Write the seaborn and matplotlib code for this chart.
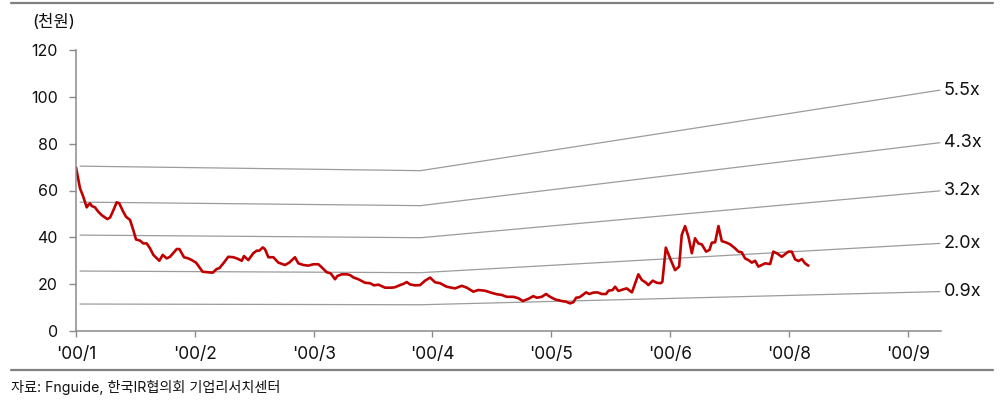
import matplotlib
matplotlib.use("Agg")
import matplotlib.pyplot as plt
import numpy as np
import pandas as pd
import seaborn as sns

# Month positions (x in months from '00/1) and closing price (천원)
price_x = [
    0.000, 0.034, 0.061, 0.090, 0.104, 0.118, 0.132, 0.160, 0.188, 0.216,
    0.263, 0.286, 0.309, 0.343, 0.364, 0.398, 0.421, 0.455, 0.482, 0.505,
    0.539, 0.566, 0.595, 0.623, 0.651, 0.701, 0.730, 0.763, 0.791, 0.848,
    0.870, 0.909, 0.945, 0.974, 1.010, 1.066, 1.105, 1.151, 1.184, 1.206,
    1.240, 1.282, 1.324, 1.353, 1.395, 1.414, 1.450, 1.492, 1.521, 1.543,
    1.572, 1.591, 1.619, 1.661, 1.703, 1.759, 1.795, 1.843, 1.871, 1.913,
    1.955, 1.997, 2.040, 2.068, 2.110, 2.144, 2.180, 2.200, 2.237, 2.279,
    2.306, 2.334, 2.376, 2.433, 2.475, 2.508, 2.545, 2.601, 2.657, 2.685,
    2.727, 2.755, 2.784, 2.811, 2.854, 2.896, 2.938, 2.980, 3.022, 3.064,
    3.120, 3.190, 3.247, 3.289, 3.344, 3.386, 3.443, 3.485, 3.541, 3.583,
    3.625, 3.681, 3.723, 3.760, 3.807, 3.849, 3.878, 3.920, 3.956, 3.990,
    4.032, 4.088, 4.125, 4.158, 4.186, 4.209, 4.237, 4.265, 4.293, 4.320,
    4.354, 4.388, 4.425, 4.461, 4.481, 4.516, 4.537, 4.565, 4.607, 4.635,
    4.678, 4.686, 4.733, 4.762, 4.798, 4.817, 4.854, 4.888, 4.921, 4.935,
    4.964, 5.000, 5.042, 5.076, 5.098, 5.126, 5.154, 5.183, 5.210, 5.238,
    5.267, 5.303, 5.331, 5.351, 5.379, 5.407, 5.435, 5.477, 5.505, 5.547,
    5.575, 5.603, 5.631, 5.659, 5.688, 5.715, 5.743, 5.772, 5.800, 5.842,
    5.869, 5.898, 5.940, 5.968, 5.996, 6.024, 6.052, 6.080, 6.109, 6.136,
    6.164,
]
price = [
    69.9, 60.9, 57.4, 52.8, 53.8, 54.5, 53.4, 52.8, 50.9, 49.5,
    47.8, 48.4, 50.9, 55.0, 54.5, 50.9, 48.8, 47.4, 43.1, 39.1,
    38.6, 37.4, 37.4, 35.3, 32.5, 30.0, 32.5, 31.0, 31.7, 35.0,
    35.0, 31.5, 31.0, 30.3, 29.2, 25.3, 25.1, 24.9, 26.5, 26.8,
    28.9, 31.7, 31.5, 31.0, 30.0, 32.0, 30.3, 33.2, 34.3, 34.3,
    35.7, 34.9, 31.5, 31.5, 29.2, 28.2, 29.2, 31.5, 28.9, 28.2,
    27.9, 28.5, 28.5, 27.2, 25.1, 24.6, 22.1, 23.5, 24.2, 24.2,
    23.9, 22.9, 22.1, 20.6, 20.4, 19.5, 19.8, 18.5, 18.5, 18.7,
    19.6, 20.1, 20.9, 19.9, 19.5, 19.6, 21.5, 22.8, 20.8, 20.4,
    18.9, 18.2, 19.3, 18.5, 16.8, 17.5, 17.2, 16.5, 15.7, 15.4,
    14.6, 14.6, 14.0, 12.8, 13.7, 14.9, 14.2, 14.6, 15.8, 14.6,
    13.5, 12.8, 12.5, 11.8, 12.3, 14.2, 14.4, 15.4, 16.5, 15.8,
    16.4, 16.5, 15.8, 15.8, 17.2, 17.5, 18.9, 17.1, 17.8, 18.2,
    16.5, 17.5, 24.2, 21.8, 20.6, 19.6, 21.5, 20.6, 20.4, 21.0,
    35.6, 31.0, 26.0, 27.5, 41.0, 44.8, 40.3, 33.2, 39.6, 37.4,
    37.0, 33.9, 34.6, 37.7, 37.9, 44.8, 38.4, 37.7, 37.0, 35.3,
    33.9, 33.6, 31.0, 30.3, 29.2, 30.0, 27.5, 28.2, 28.9, 28.6,
    33.9, 33.2, 31.7, 32.8, 33.9, 33.9, 30.6, 29.9, 30.7, 28.9,
    27.9,
]

# Book value per share (천원) used for the PBR bands
bps_x = [0.034, 2.90, 7.27]
bps = [12.8, 12.45, 18.7]
band_multiples = [5.5, 4.3, 3.2, 2.0, 0.9]
band_labels = ["5.5x", "4.3x", "3.2x", "2.0x", "0.9x"]

month_ticks = [0, 1, 2, 3, 4, 5, 6, 7]
month_labels = ["'00/1", "'00/2", "'00/3", "'00/4", "'00/5", "'00/6", "'00/8", "'00/9"]

sns.set_theme(style="white")
plt.rcParams["font.family"] = ["Inter", "Noto Sans CJK KR", "DejaVu Sans"]

fig = plt.figure(figsize=(10.06, 4.01), dpi=100)
ax = fig.add_axes([76 / 1006, 70 / 401, (941 - 76) / 1006, (331 - 50) / 401])

bands = pd.DataFrame(
    [
        {"x": x, "value": b * m, "band": lab}
        for m, lab in zip(band_multiples, band_labels)
        for x, b in zip(bps_x, bps)
    ]
)
sns.lineplot(
    data=bands, x="x", y="value", units="band", estimator=None,
    color="#9c9c9c", linewidth=0.9, ax=ax, legend=False,
)
for m, lab in zip(band_multiples, band_labels):
    ax.annotate(
        lab, xy=(bps_x[-1], bps[-1] * m), xytext=(3, 0), textcoords="offset points",
        va="center", ha="left", fontsize=13, color="#111111", annotation_clip=False,
    )

sns.lineplot(x=price_x, y=price, color="#c00000", linewidth=1.9, ax=ax, estimator=None)

ax.set_xlim(0, 7.28)
ax.set_ylim(0, 120)
ax.set_yticks(range(0, 121, 20))
ax.set_xticks(month_ticks)
ax.set_xticklabels(month_labels)
ax.set_xlabel("")
ax.set_ylabel("")
for side in ("top", "right"):
    ax.spines[side].set_visible(False)
for side in ("left", "bottom"):
    ax.spines[side].set_color("#8a8a8a")
    ax.spines[side].set_linewidth(1.1)
ax.tick_params(axis="y", which="major", left=True, length=5, width=1, color="#8a8a8a",
               pad=8, labelsize=11.5, labelcolor="#111111")
ax.tick_params(axis="x", which="major", bottom=True, length=4, width=1, color="#8a8a8a",
               pad=7, labelsize=12.5, labelcolor="#111111")

fig.text(32 / 1006, 1 - 22 / 401, "(천원)", fontsize=12, va="center", ha="left", color="#111111")
fig.text(11 / 1006, 1 - 387 / 401, "자료: Fnguide, 한국IR협의회 기업리서치센터",
         fontsize=10.2, va="center", ha="left", color="#111111")

# Horizontal rules framing the exhibit
fig.add_artist(plt.Line2D([11 / 1006, 993 / 1006], [1 - 2.5 / 401] * 2, color="#808080", linewidth=1.6))
fig.add_artist(plt.Line2D([11 / 1006, 993 / 1006], [1 - 370 / 401] * 2, color="#808080", linewidth=1.6))

fig.savefig("out.png", dpi=100, facecolor="white")
